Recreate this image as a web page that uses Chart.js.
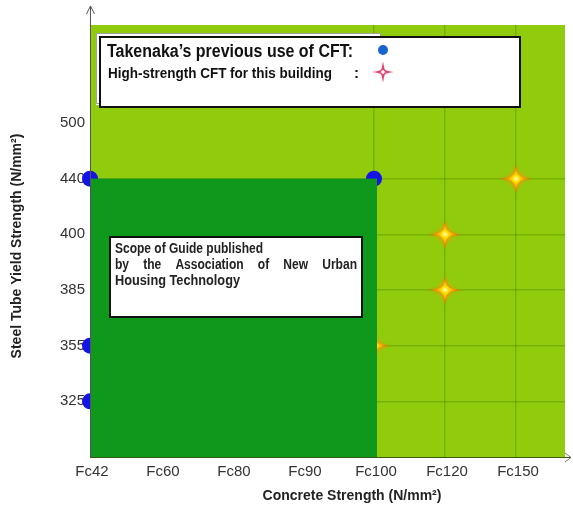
<!DOCTYPE html>
<html>
<head>
<meta charset="utf-8">
<script src="https://cdn.jsdelivr.net/npm/chart.js@4"></script>
<style>
  html, body { margin: 0; padding: 0; background: #fff; }
  #wrap { width: 573px; height: 509px; }
</style>
</head>
<body>
<div id="wrap"><canvas id="chart" width="573" height="509"></canvas></div>
<script>
// ---- duomenys ----
const concreteLabels = ["Fc42", "Fc60", "Fc80", "Fc90", "Fc100", "Fc120", "Fc150"];
const steelLabels = ["325", "355", "385", "400", "440", "500"];

// Takenaka's previous use of CFT
const prevConcrete = ["Fc42", "Fc42", "Fc42", "Fc100"];
const prevSteel = ["440", "355", "325", "440"];

// High-strength CFT for this building
const newConcrete = ["Fc100", "Fc120", "Fc120", "Fc150"];
const newSteel = ["355", "400", "385", "440"];

// Scope of Guide (Association of New Urban Housing Technology)
const guideConcrete = ["Fc42", "Fc100"];
const guideSteelMax = "440";

const LIGHT = "#90cc0c";
const DARK = "#0e981c";

function toPoints(xs, ys) {
  return xs.map((x, i) => ({ x: concreteLabels.indexOf(x), y: steelLabels.indexOf(ys[i]) }));
}

// ---- 4 kampų žvaigždė ----
function starPath(g, cx, cy, rx, ry, r) {
  g.beginPath();
  g.moveTo(cx, cy - ry);
  g.quadraticCurveTo(cx + r * 0.4, cy - r * 0.4, cx + r, cy - r);
  g.quadraticCurveTo(cx + r * 0.4, cy - r * 0.4, cx + rx, cy);
  g.quadraticCurveTo(cx + r * 0.4, cy + r * 0.4, cx + r, cy + r);
  g.quadraticCurveTo(cx + r * 0.4, cy + r * 0.4, cx, cy + ry);
  g.quadraticCurveTo(cx - r * 0.4, cy + r * 0.4, cx - r, cy + r);
  g.quadraticCurveTo(cx - r * 0.4, cy + r * 0.4, cx - rx, cy);
  g.quadraticCurveTo(cx - r * 0.4, cy - r * 0.4, cx - r, cy - r);
  g.quadraticCurveTo(cx - r * 0.4, cy - r * 0.4, cx, cy - ry);
  g.closePath();
}

function makeStar() {
  const c = document.createElement("canvas");
  c.width = 44; c.height = 40;
  const g = c.getContext("2d");
  const cx = 22, cy = 20;
  // švytėjimas
  const glow = g.createRadialGradient(cx, cy, 0, cx, cy, 11);
  glow.addColorStop(0, "rgba(255,170,30,0.8)");
  glow.addColorStop(1, "rgba(255,150,0,0)");
  g.fillStyle = glow;
  g.fillRect(0, 0, 44, 40);
  g.shadowColor = "rgba(255,110,0,0.9)";
  g.shadowBlur = 3;
  const grad = g.createRadialGradient(cx, cy, 0, cx, cy, 15);
  grad.addColorStop(0, "#fffde0");
  grad.addColorStop(0.2, "#ffe400");
  grad.addColorStop(0.55, "#ff9c00");
  grad.addColorStop(1, "#ff6000");
  starPath(g, cx, cy, 16, 14, 3.8);
  g.fillStyle = grad;
  g.fill();
  return c;
}
const starImg = makeStar();

// ---- tekstas su suspaudimu ----
function drawText(ctx, text, x, y, font, sx, color) {
  ctx.save();
  ctx.font = font;
  ctx.fillStyle = color;
  ctx.textBaseline = "alphabetic";
  ctx.textAlign = "left";
  ctx.translate(x, y);
  ctx.scale(sx, 1);
  ctx.fillText(text, 0, 0);
  ctx.restore();
}

function drawFitted(ctx, text, x, y, font, width, color) {
  ctx.save();
  ctx.font = font;
  const w = ctx.measureText(text).width;
  ctx.restore();
  drawText(ctx, text, x, y, font, width / w, color);
}

function drawJustified(ctx, text, x, y, font, sx, width, color) {
  ctx.save();
  ctx.font = font;
  const words = text.split(" ");
  const ws = words.map(w => ctx.measureText(w).width * sx);
  const total = ws.reduce((a, b) => a + b, 0);
  const gap = (width - total) / (words.length - 1);
  ctx.restore();
  let cx = x;
  words.forEach((w, i) => {
    drawText(ctx, w, cx, y, font, sx, color);
    cx += ws[i] + gap;
  });
}

// ---- fonai ----
const backgroundPlugin = {
  id: "bg",
  beforeDraw(chart) {
    const { ctx, chartArea: a } = chart;
    ctx.save();
    ctx.fillStyle = LIGHT;
    ctx.fillRect(a.left, a.top, a.right - a.left, a.bottom - a.top);
    ctx.restore();
  },
  afterDatasetsDraw(chart) {
    const { ctx, scales } = chart;
    const x0 = scales.x.getPixelForValue(concreteLabels.indexOf(guideConcrete[0]));
    const x1 = scales.x.getPixelForValue(concreteLabels.indexOf(guideConcrete[1]));
    const y0 = scales.y.getPixelForValue(steelLabels.indexOf(guideSteelMax));
    const y1 = chart.chartArea.bottom;
    ctx.save();
    ctx.fillStyle = DARK;
    ctx.fillRect(x0, y0, x1 - x0 + 3, y1 - y0);
    ctx.restore();
  },
  afterDraw(chart) {
    const { ctx, chartArea: a } = chart;
    ctx.save();

    // ašys su rodyklėmis
    ctx.strokeStyle = "#555";
    ctx.lineWidth = 1;
    ctx.beginPath();
    ctx.moveTo(a.left + 0.5, a.bottom);
    ctx.lineTo(a.left + 0.5, 6);
    ctx.moveTo(a.left - 3.5, 14);
    ctx.lineTo(a.left + 0.5, 6);
    ctx.lineTo(a.left + 4.5, 14);
    ctx.stroke();
    ctx.strokeStyle = "#3a5a10";
    ctx.beginPath();
    ctx.moveTo(a.left, a.bottom + 0.5);
    ctx.lineTo(571, a.bottom + 0.5);
    ctx.stroke();
    ctx.strokeStyle = "#777";
    ctx.beginPath();
    ctx.moveTo(565, a.bottom - 4);
    ctx.lineTo(571, a.bottom + 0.5);
    ctx.lineTo(565, a.bottom + 5);
    ctx.stroke();

    // legenda 1
    ctx.fillStyle = "#fff";
    ctx.fillRect(96, 33, 284, 72);
    ctx.strokeStyle = "#a0a0a0";
    ctx.strokeRect(96.5, 33.5, 284, 70);
    ctx.fillRect(100, 37, 420, 70);
    ctx.strokeStyle = "#111";
    ctx.lineWidth = 2;
    ctx.strokeRect(100, 37, 420, 70);

    drawFitted(ctx, "Takenaka\u2019s previous use of CFT:", 107, 57, "bold 18px 'Liberation Sans', Arial", 246, "#111");
    drawFitted(ctx, "High-strength CFT for this building", 108, 78, "bold 15px 'Liberation Sans', Arial", 224, "#111");
    drawText(ctx, ":", 354, 78, "bold 15px 'Liberation Sans', Arial", 1, "#111");

    ctx.fillStyle = "#1a62cc";
    ctx.beginPath();
    ctx.arc(383, 50, 5, 0, Math.PI * 2);
    ctx.fill();

    starPath(ctx, 383, 72, 6, 6, 2.2);
    ctx.fillStyle = "#fff0f4";
    ctx.fill();
    ctx.strokeStyle = "#e63d6a";
    ctx.lineWidth = 1.6;
    ctx.stroke();

    // legenda 2
    ctx.fillStyle = "#fff";
    ctx.fillRect(110, 237, 252, 80);
    ctx.strokeStyle = "#111";
    ctx.lineWidth = 2;
    ctx.strokeRect(110, 237, 252, 80);
    const f2 = "bold 14px 'Liberation Sans', Arial";
    drawFitted(ctx, "Scope of Guide published", 115, 253, f2, 148, "#222");
    drawJustified(ctx, "by the Association of New Urban", 115, 269, f2, 0.86, 242, "#222");
    drawFitted(ctx, "Housing Technology", 115, 285, f2, 125, "#222");

    // ašių pavadinimai
    ctx.fillStyle = "#222";
    ctx.font = "bold 14px 'Liberation Sans', Arial";
    ctx.textAlign = "center";
    ctx.textBaseline = "middle";
    ctx.fillText("Concrete Strength (N/mm\u00b2)", 352, 496);
    ctx.translate(17, 246);
    ctx.rotate(-Math.PI / 2);
    ctx.fillText("Steel Tube Yield Strength (N/mm\u00b2)", 0, 0);

    ctx.restore();
  }
};

const gridColor = "rgba(70,125,0,0.35)";

new Chart(document.getElementById("chart"), {
  type: "scatter",
  data: {
    datasets: [
      {
        label: "High-strength CFT for this building",
        data: toPoints(newConcrete, newSteel),
        pointStyle: starImg,
        clip: false,
      },
      {
        label: "Takenaka's previous use of CFT",
        data: toPoints(prevConcrete, prevSteel),
        pointStyle: "circle",
        pointRadius: 8,
        backgroundColor: "#1414e6",
        borderColor: "#1414e6",
        borderWidth: 0,
        clip: false,
      },
    ],
  },
  options: {
    responsive: false,
    animation: false,
    devicePixelRatio: 1,
    layout: { padding: { top: 25, right: 6, left: 0, bottom: 0 } },
    plugins: {
      legend: { display: false },
      tooltip: { enabled: false },
    },
    scales: {
      x: {
        type: "linear",
        min: 0,
        max: 6.69,
        afterBuildTicks: (s) => { s.ticks = concreteLabels.map((_, i) => ({ value: i })); },
        afterFit: (s) => { s.height = 52; },
        ticks: {
          callback: (v) => concreteLabels[v],
          font: { family: "'Liberation Sans', Arial", size: 15 },
          color: "#333",
          padding: 6,
          labelOffset: 2,
          maxRotation: 0,
          autoSkip: false,
        },
        grid: {
          color: (c) => (c.tick && c.tick.value >= 4 ? gridColor : "transparent"),
          lineWidth: 1.5,
          drawTicks: false,
        },
        border: { display: false },
      },
      y: {
        type: "linear",
        min: -1,
        max: 6.76,
        afterBuildTicks: (s) => { s.ticks = steelLabels.map((_, i) => ({ value: i })); },
        afterFit: (s) => { s.width = 90; },
        ticks: {
          callback: (v) => steelLabels[v],
          font: { family: "'Liberation Sans', Arial", size: 15 },
          color: "#333",
          padding: 5,
          autoSkip: false,
        },
        grid: {
          color: (c) => (c.tick && c.tick.value <= 4 ? gridColor : "transparent"),
          lineWidth: 1.5,
          drawTicks: false,
        },
        border: { display: false },
      },
    },
  },
  plugins: [backgroundPlugin],
});
</script>
</body>
</html>
